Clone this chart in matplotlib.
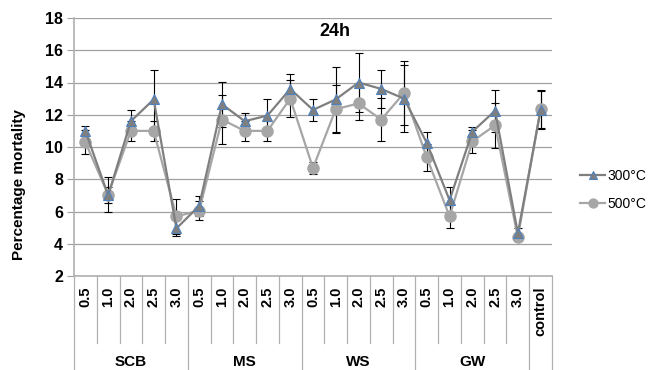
import numpy as np
import matplotlib.pyplot as plt

plt.rcParams['font.family'] = ['Liberation Sans', 'DejaVu Sans']

groups = ["SCB", "MS", "WS", "GW"]
doses = ["0.5", "1.0", "2.0", "2.5", "3.0"]
tick_labels = doses * 4 + ["control"]

mort_300 = [11.0, 7.0, 11.6, 12.95, 4.95,
            6.35, 12.65, 11.6, 11.95, 13.6,
            12.3, 12.95, 14.0, 13.6, 13.0,
            10.25, 6.7, 10.95, 12.25, 4.65,
            12.3]
err_300 = [0.3, 0.5, 0.7, 1.8, 0.5,
           0.6, 1.4, 0.5, 1.0, 0.9,
           0.7, 2.0, 1.8, 1.2, 2.1,
           0.7, 0.8, 0.3, 1.3, 0.35,
           1.2]
mort_500 = [10.3, 7.05, 11.0, 11.0, 5.7,
            6.05, 11.7, 11.0, 11.0, 13.0,
            8.7, 12.35, 12.7, 11.7, 13.35,
            9.35, 5.7, 10.35, 11.35, 4.4,
            12.35]
err_500 = [0.75, 1.1, 0.6, 0.6, 1.1,
           0.6, 1.5, 0.6, 0.6, 1.15,
           0.35, 1.5, 1.0, 1.35, 2.0,
           0.85, 0.7, 0.7, 1.4, 0.2,
           1.2]

fig = plt.figure(figsize=(6.53, 3.70), dpi=100)
ax = fig.add_axes([74 / 653, 94 / 370, 478 / 653, 258 / 370])

x = np.arange(len(tick_labels))
ax.errorbar(x, mort_300, yerr=err_300, fmt='none', ecolor='black', elinewidth=0.8, capsize=3, capthick=0.8, zorder=2)
ax.errorbar(x, mort_500, yerr=err_500, fmt='none', ecolor='black', elinewidth=0.8, capsize=3, capthick=0.8, zorder=2)
ax.plot(x, mort_300, color='#7f7f7f', lw=1.6, marker='^', ms=7.5, mfc='#7f7f7f', mec='#4f81bd', mew=0.8,
        label='300°C', zorder=4)
ax.plot(x, mort_500, color='#a6a6a6', lw=1.6, marker='o', ms=8, mfc='#a6a6a6', mec='#a6a6a6',
        label='500°C', zorder=3)

ax.set_xlim(-0.5, len(tick_labels) - 0.5)
ax.set_ylim(2, 18)
ax.set_yticks(range(2, 19, 2))
ax.tick_params(axis='y', labelsize=11.5, length=5, color='#a0a0a0', width=0.8, pad=3)
for lbl in ax.get_yticklabels():
    lbl.set_fontweight('bold')
ax.set_xticks([])
ax.grid(axis='y', color='#a0a0a0', lw=0.9)
ax.set_axisbelow(True)
for s in ['top', 'right']:
    ax.spines[s].set_visible(False)
ax.spines['left'].set_color('#b0b0b0')
ax.spines['bottom'].set_color('#b0b0b0')
ax.spines['left'].set_linewidth(1.2)
ax.spines['bottom'].set_linewidth(1.2)

ax.text((335 - 74) / 478, 1 - 13 / 258, '24h', transform=ax.transAxes, ha='center', va='center',
        fontsize=13, fontweight='bold')

# category labels and separators below the axis
tr = ax.get_xaxis_transform()
for i, lab in enumerate(tick_labels):
    ax.text(i, -0.04, lab, transform=tr, rotation=90, ha='center', va='top',
            fontsize=10.5, fontweight='bold', clip_on=False)
for b in range(len(tick_labels) + 1):
    low = -0.37 if b % 5 == 0 or b == len(tick_labels) else -0.26
    ax.plot([b - 0.5, b - 0.5], [0, low], transform=tr, color='#b0b0b0', lw=0.9, clip_on=False)
for g, name in enumerate(groups):
    ax.text(g * 5 + 2, -0.335, name, transform=tr, ha='center', va='center',
            fontsize=11, fontweight='bold', clip_on=False)

fig.text(19 / 653, 1 - 185 / 370, 'Percentage mortality', rotation=90, ha='center', va='center',
         fontsize=11, fontweight='bold')

fig.legend(loc='center left', bbox_to_anchor=(569 / 653, 1 - 190 / 370), frameon=False,
           fontsize=10, handlelength=1.8, labelspacing=1.0, handletextpad=0.2, markerscale=0.8,
           borderpad=0.3)

fig.savefig('out.png', dpi=100)
